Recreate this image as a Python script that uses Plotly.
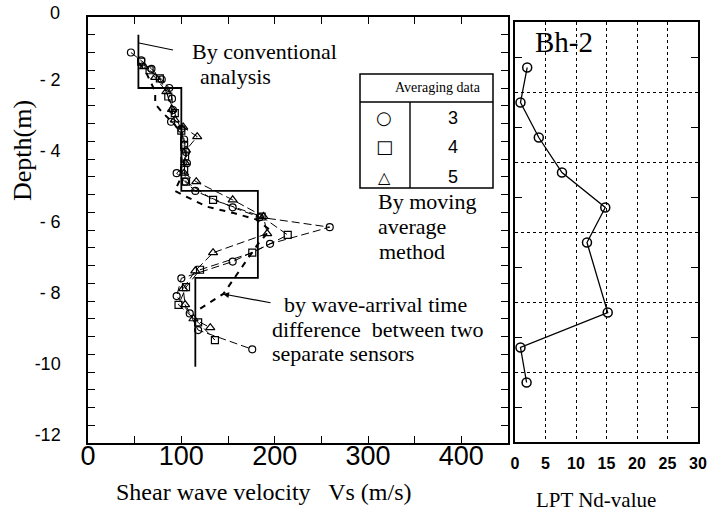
import plotly.graph_objects as go

# ---------------- data ----------------
# Conventional analysis (layer tops / bottoms in m, Vs in m/s)
conv_top = [-0.5, -2.0, -4.9, -7.35]
conv_bottom = [-2.0, -4.9, -7.35, -9.85]
conv_vs = [54, 100, 182, 115]

# Moving average, 3 data
ma3_depth = [-1.0, -1.22, -1.46, -1.76, -2.0, -2.3, -2.62, -2.95, -3.15, -3.45, -3.8, -4.12,
             -4.4, -4.64, -4.9, -5.36, -5.64, -5.92, -6.39, -6.89, -7.36, -7.86, -8.35, -8.82, -9.36]
ma3_vs = [46, 57, 68, 79, 87, 90, 91, 89, 100, 103, 105, 106,
          95, 104, 115, 155, 184, 259, 195, 155, 100, 95, 109, 118, 176]

# Moving average, 4 data
ma4_depth = [-1.26, -1.5, -1.73, -2.24, -2.71, -3.2, -3.6, -3.93, -4.3, -4.64, -5.15, -5.62,
             -6.14, -6.64, -7.12, -7.61, -8.11, -8.6, -9.1]
ma4_vs = [57, 66, 77, 86, 93, 100, 103, 104, 103, 105, 134, 186,
          214, 176, 120, 105, 97, 118, 136]

# Moving average, 5 data
ma5_depth = [-1.4, -1.7, -2.1, -2.6, -2.9, -3.1, -3.37, -3.75, -4.1, -4.4, -4.64, -5.15,
             -5.62, -6.1, -6.64, -7.15, -7.65, -8.1, -8.5, -8.75]
ma5_vs = [60, 72, 84, 90, 93, 102, 117, 105, 104, 103, 116, 155,
          188, 192, 134, 115, 102, 104, 113, 131]

# Wave-arrival time difference between two separate sensors
wave_depth = [-1.3, -1.55, -2.1, -2.45, -2.7, -3.0, -3.3, -4.5, -4.9, -5.04, -5.34, -5.53,
              -5.7, -6.0, -6.4, -7.8, -8.3]
wave_vs = [55, 62, 72, 72, 80, 92, 100, 100, 93, 104, 127, 157,
           180, 195, 182, 145, 115]

# LPT Nd-value
lpt_depth = [-1.3, -2.3, -3.3, -4.3, -5.3, -6.3, -8.3, -9.3, -10.3]
lpt_nd = [2.0, 0.9, 3.9, 7.7, 14.8, 11.8, 15.2, 0.9, 1.9]

# Axis ticks
vs_ticks = [0, 50, 100, 150, 200, 250, 300, 350, 400]
vs_labels = ["0", "", "100", "", "200", "", "300", "", "400"]
depth_ticks = [-12 + 0.5 * i for i in range(25)]
depth_label_map = {-2: "- 2", -4: "- 4", -6: "- 6", -8: "- 8", -10: "-10", -12: "-12"}
depth_labels = [depth_label_map.get(v, "") for v in depth_ticks]
depth_top_label = "0"
nd_ticks = [0, 5, 10, 15, 20, 25, 30]
nd_labels = ["0", "5", "10", "15", "20", "25", "30"]
grid_depths = [-10, -8, -6, -4, -2]
odd_depths = [-11, -9, -7, -5, -3, -1]

# ---------------- layout helpers ----------------
W, H = 724, 514
ML, MR, MT, MB = 88, 24, 17, 71
PW, PH = W - ML - MR, H - MT - MB


def px(x):
    return (x - ML) / PW


def py(y):
    return 1 - (y - MT) / PH


SERIF = "Liberation Serif, Times New Roman, serif"
SANS = "Liberation Sans, Arial, sans-serif"

fig = go.Figure()

# conventional step profile
step_x, step_y = [], []
for t, b, v in zip(conv_top, conv_bottom, conv_vs):
    step_x += [v, v]
    step_y += [t, b]
fig.add_trace(go.Scatter(x=step_x, y=step_y, mode="lines",
                         line=dict(color="black", width=1.8), xaxis="x", yaxis="y"))

fig.add_trace(go.Scatter(x=wave_vs, y=wave_depth, mode="lines",
                         line=dict(color="black", width=2, dash="6px,6px"), xaxis="x", yaxis="y"))

for d, v, sym, sz in [(ma3_depth, ma3_vs, "circle-open", 7),
                      (ma4_depth, ma4_vs, "square-open", 7),
                      (ma5_depth, ma5_vs, "triangle-up-open", 8)]:
    fig.add_trace(go.Scatter(x=v, y=d, mode="lines+markers",
                             line=dict(color="black", width=1, dash="8px,4px"),
                             marker=dict(symbol=sym, size=sz, color="black", line=dict(width=1.2, color="black")),
                             xaxis="x", yaxis="y"))

fig.add_trace(go.Scatter(x=lpt_nd, y=lpt_depth, mode="lines+markers",
                         line=dict(color="black", width=1.3),
                         marker=dict(symbol="circle-open", size=9, color="black", line=dict(width=1.5, color="black")),
                         xaxis="x2", yaxis="y2"))

axis_common = dict(showline=True, linecolor="black", linewidth=1.5, zeroline=False, mirror="ticks")

fig.update_layout(
    width=W, height=H,
    margin=dict(l=ML, r=MR, t=MT, b=MB),
    paper_bgcolor="white", plot_bgcolor="white",
    showlegend=False,
    xaxis=dict(domain=[0, px(508)], range=[0, 450], tickmode="array", tickvals=vs_ticks, ticktext=vs_labels,
               ticks="inside", ticklen=7, tickcolor="black", showgrid=False, ticklabelstandoff=-12,
               tickfont=dict(family=SANS, size=27, color="black"), anchor="y", **axis_common),
    yaxis=dict(domain=[0, 1], range=[-12, 0], tickmode="array", tickvals=depth_ticks, ticktext=depth_labels,
               ticks="inside", ticklen=7, tickcolor="black", showgrid=False, ticklabelstandoff=22,
               ticklabelshift=-8,
               tickfont=dict(family=SANS, size=18, color="black"), anchor="x", **axis_common),
    xaxis2=dict(domain=[px(515), px(698)], range=[0, 30], tickmode="array", tickvals=nd_ticks, ticktext=nd_labels,
                ticks="", showgrid=True, griddash="dot", gridcolor="black", gridwidth=1, ticklabelstandoff=6,
                tickfont=dict(family=SANS, size=16, color="black", weight="bold"), anchor="y2",
                showline=True, linecolor="black", linewidth=1.5, zeroline=False, mirror=True),
    yaxis2=dict(domain=[py(442), py(22)], range=[-12, 0], tickmode="array", tickvals=grid_depths,
                ticks="", showticklabels=False, showgrid=True, griddash="dot", gridcolor="black", gridwidth=1,
                minor=dict(tickmode="array", tickvals=odd_depths, ticks="inside", ticklen=7, tickcolor="black",
                           showgrid=False),
                anchor="x2", **axis_common),
)

ann = []


def text(x, y, s, size, family=SERIF, xanchor="left"):
    ann.append(dict(x=px(x), y=py(y), xref="paper", yref="paper", text=s, showarrow=False,
                    xanchor=xanchor, yanchor="middle", font=dict(family=family, size=size, color="black")))


text(190, 52, "By conventional", 22)
text(198, 76, "analysis", 22)
text(376, 201, "By moving", 22)
text(376, 226, "average", 22)
text(377, 251, "method", 22)
text(282, 304, "by wave-arrival time", 22)
text(270, 329, "difference  between two", 22)
text(270, 353, "separate sensors", 22)
text(533, 42, "Bh-2", 29)
text(438, 88, "Averaging data", 14, xanchor="center")
text(384, 118, "○", 18, family="DejaVu Sans", xanchor="center")
text(384, 147, "□", 18, family="DejaVu Sans", xanchor="center")
text(384, 177, "△", 16, family="DejaVu Sans", xanchor="center")
text(453, 118, "3", 18, family=SANS, xanchor="center")
text(453, 147, "4", 18, family=SANS, xanchor="center")
text(453, 177, "5", 18, family=SANS, xanchor="center")
text(264, 492, "Shear wave velocity   Vs (m/s)", 24, xanchor="center")
text(596, 500, "LPT Nd-value", 21, xanchor="center")
text(62, 13, depth_top_label, 18, family=SANS, xanchor="right")
ann.append(dict(x=px(22), y=py(151), xref="paper", yref="paper", text="Depth(m)", showarrow=False,
                textangle=-90, xanchor="center", yanchor="middle",
                font=dict(family=SERIF, size=26, color="black")))
# arrow to wave-arrival line
ann.append(dict(x=px(223), y=py(294), xref="paper", yref="paper", text="", showarrow=True,
                ax=49, ay=9, arrowhead=2, arrowsize=1, arrowwidth=1.2, arrowcolor="black"))
fig.update_layout(annotations=ann)

shapes = []


def seg(x0, y0, x1, y1, w=1.4):
    shapes.append(dict(type="line", xref="paper", yref="paper", x0=px(x0), y0=py(y0), x1=px(x1), y1=py(y1),
                       line=dict(color="black", width=w)))


# legend box
shapes.append(dict(type="rect", xref="paper", yref="paper", x0=px(360), y0=py(188), x1=px(493), y1=py(74),
                   line=dict(color="black", width=1.5), fillcolor="white", layer="below"))
seg(360, 102, 493, 102)
seg(410, 102, 410, 188)
# pointer for conventional analysis
seg(139, 43, 173, 50, 1.2)
fig.update_layout(shapes=shapes)

fig.write_html("out.html")
